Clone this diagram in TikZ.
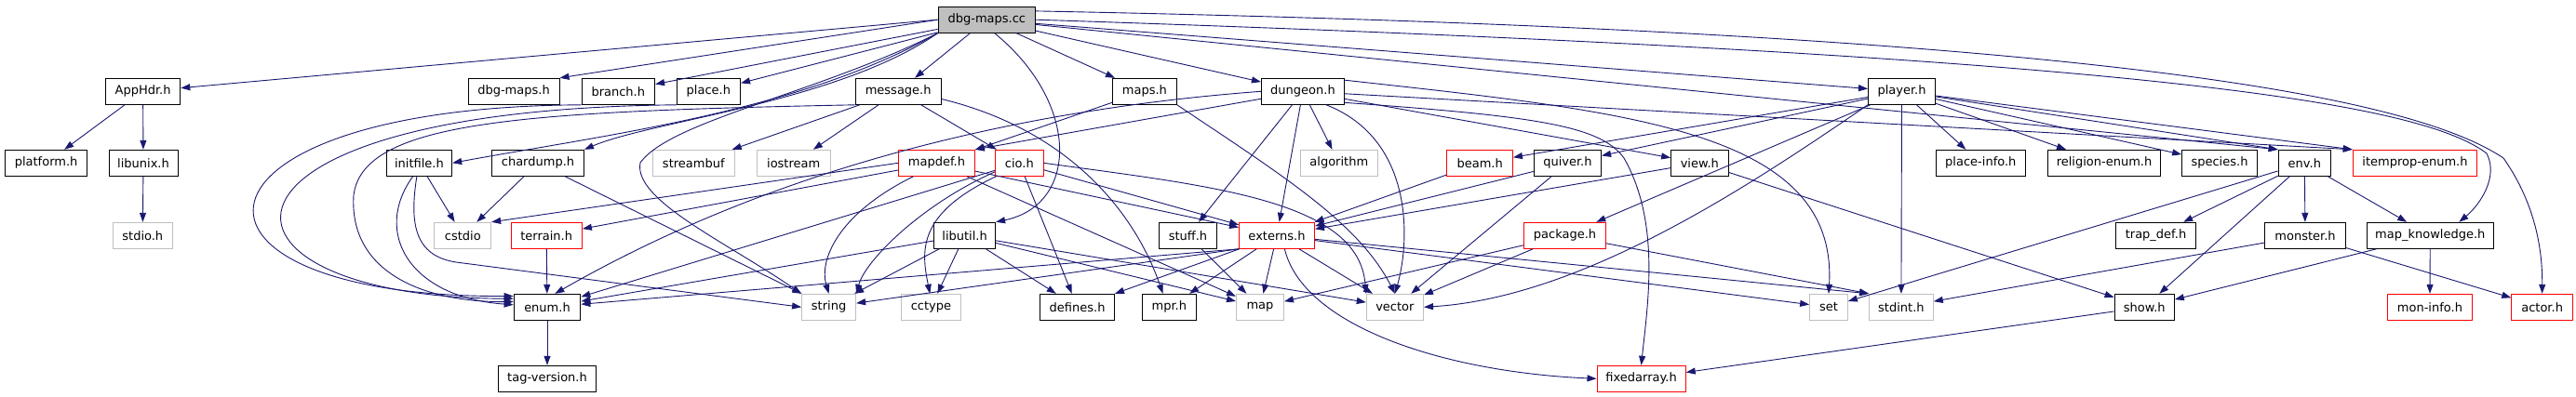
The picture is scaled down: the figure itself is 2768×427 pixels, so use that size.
\documentclass[tikz,border=0pt]{standalone}
\usepackage{fontspec}
\setmainfont{DejaVu Sans}
\usetikzlibrary{arrows.meta}
\definecolor{edgec}{HTML}{191970}
\definecolor{sysg}{HTML}{BFBFBF}
\definecolor{trred}{HTML}{FF0000}
\begin{document}
\begin{tikzpicture}[x=1pt,y=-1pt,
  box/.style={draw=black,line width=1pt,minimum height=28pt,inner sep=0pt,font=\fontsize{13}{15}\selectfont},
  sys/.style={box,draw=sysg},
  trunc/.style={box,draw=trred},
  root/.style={box,fill=sysg},
  dep/.style={draw=edgec,line width=0.9pt,-{Triangle[length=10pt,width=7pt]}}]
\fill[white] (0,0) rectangle (2768,427);
\useasboundingbox (0,0) rectangle (2768,427);
% row 0
\node[root,minimum width=104.5pt] (dbgcc) at (1060.3,21.2) {dbg-maps.cc};
% row 1
\node[box,minimum width=80.4pt] (apphdr) at (153.6,98.3) {AppHdr.h};
\node[box,minimum width=98pt] (dbgmapsh) at (552,98.3) {dbg-maps.h};
\node[box,minimum width=78.6pt] (branch) at (664.3,98.3) {branch.h};
\node[box,minimum width=68.3pt] (place) at (761.4,98.3) {place.h};
\node[box,minimum width=92pt] (message) at (965.2,98.3) {message.h};
\node[box,minimum width=68.8pt] (maps) at (1229.9,98.3) {maps.h};
\node[box,minimum width=89.2pt] (dungeon) at (1400,98.3) {dungeon.h};
\node[box,minimum width=72pt] (player) at (2043.5,98.3) {player.h};
% row 2
\node[box,minimum width=88.4pt] (platform) at (49.6,175.3) {platform.h};
\node[box,minimum width=74pt] (libunix) at (154,175.3) {libunix.h};
\node[box,minimum width=70.5pt] (initfile) at (450.4,175.3) {initfile.h};
\node[box,minimum width=99pt] (chardump) at (578,175.3) {chardump.h};
\node[sys,minimum width=88pt] (streambuf) at (745.3,175.3) {streambuf};
\node[sys,minimum width=78.6pt] (iostream) at (852.7,175.3) {iostream};
\node[trunc,minimum width=81.7pt] (mapdef) at (1006.5,175.3) {mapdef.h};
\node[trunc,minimum width=51.4pt] (cio) at (1095.3,175.3) {cio.h};
\node[sys,minimum width=83pt] (algorithm) at (1438.8,175.3) {algorithm};
\node[trunc,minimum width=70.5pt] (beam) at (1590.2,175.3) {beam.h};
\node[box,minimum width=72.3pt] (quiver) at (1684.4,175.3) {quiver.h};
\node[box,minimum width=61.4pt] (view) at (1826.3,175.3) {view.h};
\node[box,minimum width=96pt] (placeinfo) at (2128.3,175.3) {place-info.h};
\node[box,minimum width=121pt] (religion) at (2261,175.3) {religion-enum.h};
\node[box,minimum width=80.8pt] (species) at (2385,175.3) {species.h};
\node[box,minimum width=56.3pt] (env) at (2476.3,175.3) {env.h};
\node[trunc,minimum width=133.5pt] (itemprop) at (2595,175.3) {itemprop-enum.h};
% row 3
\node[sys,minimum width=64pt] (stdio) at (153.3,253.3) {stdio.h};
\node[sys,minimum width=60.7pt] (cstdio) at (497.3,253.3) {cstdio};
\node[trunc,minimum width=76.4pt] (terrain) at (587.2,253.3) {terrain.h};
\node[box,minimum width=66pt] (libutil) at (1036.6,253.3) {libutil.h};
\node[box,minimum width=62pt] (stuff) at (1276.5,253.3) {stuff.h};
\node[trunc,minimum width=81pt] (externs) at (1372,253.3) {externs.h};
\node[trunc,minimum width=87.9pt] (package) at (1681.5,253.3) {package.h};
\node[box,minimum width=86pt] (trapdef) at (2316.5,253.3) {trap\_def.h};
\node[box,minimum width=86.6pt] (monster) at (2477,253.3) {monster.h};
\node[box,minimum width=135.8pt] (mapknow) at (2611.3,253.3) {map\_knowledge.h};
% row 4
\node[box,minimum width=71.7pt] (enum) at (588,330.3) {enum.h};
\node[sys,minimum width=58pt] (string) at (890.6,330.3) {string};
\node[sys,minimum width=64.3pt] (cctype) at (1000.5,330.3) {cctype};
\node[box,minimum width=80.4pt] (defines) at (1157.6,330.3) {defines.h};
\node[box,minimum width=58pt] (mpr) at (1256.3,330.3) {mpr.h};
\node[sys,minimum width=51pt] (map) at (1354,330.3) {map};
\node[sys,minimum width=61.2pt] (vector) at (1498.9,330.3) {vector};
\node[sys,minimum width=40.7pt] (set) at (1965,330.3) {set};
\node[sys,minimum width=68.7pt] (stdint) at (2042.9,330.3) {stdint.h};
\node[box,minimum width=64.3pt] (show) at (2304.2,330.3) {show.h};
\node[trunc,minimum width=91pt] (moninfo) at (2610.9,330.3) {mon-info.h};
\node[trunc,minimum width=65.6pt] (actor) at (2731.6,330.3) {actor.h};
% row 5
\node[box,minimum width=105.3pt] (tagver) at (588,407.3) {tag-version.h};
\node[trunc,minimum width=95.2pt] (fixedarray) at (1763.6,407.3) {fixedarray.h};

% ---- dbg-maps.cc
\draw[dep] (dbgcc.west) -- (apphdr);
\draw[dep] (dbgcc.west) -- (dbgmapsh.north east);
\draw[dep] (dbgcc) -- (branch);
\draw[dep] (dbgcc) -- (place);
\draw[dep] (dbgcc.south west) .. controls (860,120) and (650,145) .. (initfile.east);
\draw[dep] (dbgcc.south west) .. controls (900,110) and (700,130) .. (chardump.north east);
\draw[dep] (dbgcc.south west) .. controls (880,100) and (720,130) .. (688,175) .. controls (680,215) and (780,260) .. (string.north west);
\draw[dep] (dbgcc) -- (message);
\draw[dep] (dbgcc.-60) .. controls (1160,110) and (1160,220) .. (libutil.north east);
\draw[dep] (dbgcc) -- (maps);
\draw[dep] (dbgcc) -- (dungeon);
\draw[dep] (dbgcc) -- (player);
\draw[dep] (dbgcc) -- (env.north west);
\draw[dep] (dbgcc.east) .. controls (2300,60) and (2600,110) .. (2672,165) .. controls (2685,190) and (2665,220) .. (mapknow.25);
\draw[dep] (dbgcc.10) .. controls (2300,35) and (2600,110) .. (2690,170) .. controls (2725,220) and (2732,270) .. (actor.north);
% ---- AppHdr / libunix
\draw[dep] (apphdr) -- (platform);
\draw[dep] (apphdr) -- (libunix);
\draw[dep] (libunix) -- (stdio);
% ---- curves into enum.h from the left
\draw[dep] (branch.south west) .. controls (180,115) and (160,320) .. (enum.162);
\draw[dep] (place.south west) .. controls (190,118) and (200,320) .. (enum.166);
\draw[dep] (message.south west) .. controls (560,120) and (390,130) .. (380,210) .. controls (375,290) and (450,325) .. (enum.171);
\draw[dep] (initfile.-115) .. controls (400,250) and (440,320) .. (enum.176);
% ---- message.h
\draw[dep] (message) -- (streambuf);
\draw[dep] (message) -- (iostream);
\draw[dep] (message) -- (cio);
\draw[dep] (message.-10) .. controls (1150,140) and (1220,230) .. (mpr.115);
% ---- initfile / chardump
\draw[dep] (initfile) -- (cstdio);
\draw[dep] (initfile.-100) .. controls (440,240) and (445,275) .. (490,282) -- (string.west);
\draw[dep] (chardump) -- (cstdio);
\draw[dep] (chardump) -- (string);
% ---- maps.h
\draw[dep] (maps) -- (mapdef);
\draw[dep] (maps.south east) .. controls (1380,190) and (1460,240) .. (vector.north);
% ---- dungeon.h
\draw[dep] (dungeon) -- (mapdef.north east);
\draw[dep] (dungeon.west) .. controls (1000,125) and (760,222) .. (enum.60);
\draw[dep] (dungeon) -- (algorithm);
\draw[dep] (dungeon) -- (stuff);
\draw[dep] (dungeon) -- (externs);
\draw[dep] (dungeon.-30) .. controls (1520,150) and (1515,260) .. (vector.north);
\draw[dep] (dungeon.-15) .. controls (1650,125) and (1720,135) .. (1745,170) .. controls (1785,240) and (1770,330) .. (fixedarray.north);
\draw[dep] (dungeon.15) .. controls (1750,120) and (1975,140) .. (set.north);
\draw[dep] (dungeon) -- (view);
\draw[dep] (dungeon) -- (itemprop.north west);
% ---- mapdef.h
\draw[dep] (mapdef.west) -- (cstdio.north east);
\draw[dep] (mapdef) -- (terrain);
\draw[dep] (mapdef.-150) .. controls (900,230) and (880,280) .. (string.north);
\draw[dep] (mapdef) -- (externs);
\draw[dep] (mapdef) -- (map);
% ---- cio.h
\draw[dep] (cio) -- (enum);
\draw[dep] (cio.200) .. controls (990,220) and (930,280) .. (string.north east);
\draw[dep] (cio.210) .. controls (985,230) and (990,270) .. (cctype.95);
\draw[dep] (cio) -- (defines);
\draw[dep] (cio) -- (externs);
\draw[dep] (cio.east) .. controls (1300,200) and (1460,215) .. (vector.north west);
% ---- terrain / enum
\draw[dep] (terrain) -- (enum);
\draw[dep] (enum) -- (tagver);
% ---- libutil.h
\draw[dep] (libutil) -- (enum);
\draw[dep] (libutil) -- (string);
\draw[dep] (libutil) -- (cctype);
\draw[dep] (libutil) -- (defines);
\draw[dep] (libutil) -- (map);
\draw[dep] (libutil) -- (vector);
% ---- stuff.h
\draw[dep] (stuff) -- (map);
% ---- externs.h
\draw[dep] (externs.south west) -- (enum);
\draw[dep] (externs.south west) -- (string);
\draw[dep] (externs) -- (defines);
\draw[dep] (externs) -- (mpr);
\draw[dep] (externs) -- (map);
\draw[dep] (externs) -- (vector);
\draw[dep] (externs) -- (set);
\draw[dep] (externs) -- (stdint.north west);
\draw[dep] (externs.-60) .. controls (1400,350) and (1550,400) .. (fixedarray.west);
% ---- beam / quiver / view / package
\draw[dep] (beam) -- (externs);
\draw[dep] (quiver) -- (externs);
\draw[dep] (quiver) -- (vector);
\draw[dep] (view) -- (externs);
\draw[dep] (view) -- (show);
\draw[dep] (package) -- (map);
\draw[dep] (package) -- (vector);
\draw[dep] (package) -- (stdint.north west);
% ---- player.h
\draw[dep] (player) -- (beam);
\draw[dep] (player) -- (quiver);
\draw[dep] (player) -- (package);
\draw[dep] (player.south west) .. controls (1880,200) and (1700,320) .. (vector.east);
\draw[dep] (player) -- (stdint);
\draw[dep] (player) -- (placeinfo);
\draw[dep] (player) -- (religion);
\draw[dep] (player) -- (species);
\draw[dep] (player) -- (env.north west);
\draw[dep] (player) -- (itemprop.north west);
% ---- env.h
\draw[dep] (env) -- (trapdef);
\draw[dep] (env) -- (show);
\draw[dep] (env) -- (monster);
\draw[dep] (env) -- (mapknow);
\draw[dep] (env) -- (set);
% ---- monster / map_knowledge / show
\draw[dep] (monster) -- (stdint);
\draw[dep] (monster) -- (actor);
\draw[dep] (mapknow) -- (show);
\draw[dep] (mapknow) -- (moninfo);
\draw[dep] (show) -- (fixedarray);
\end{tikzpicture}
\end{document}
